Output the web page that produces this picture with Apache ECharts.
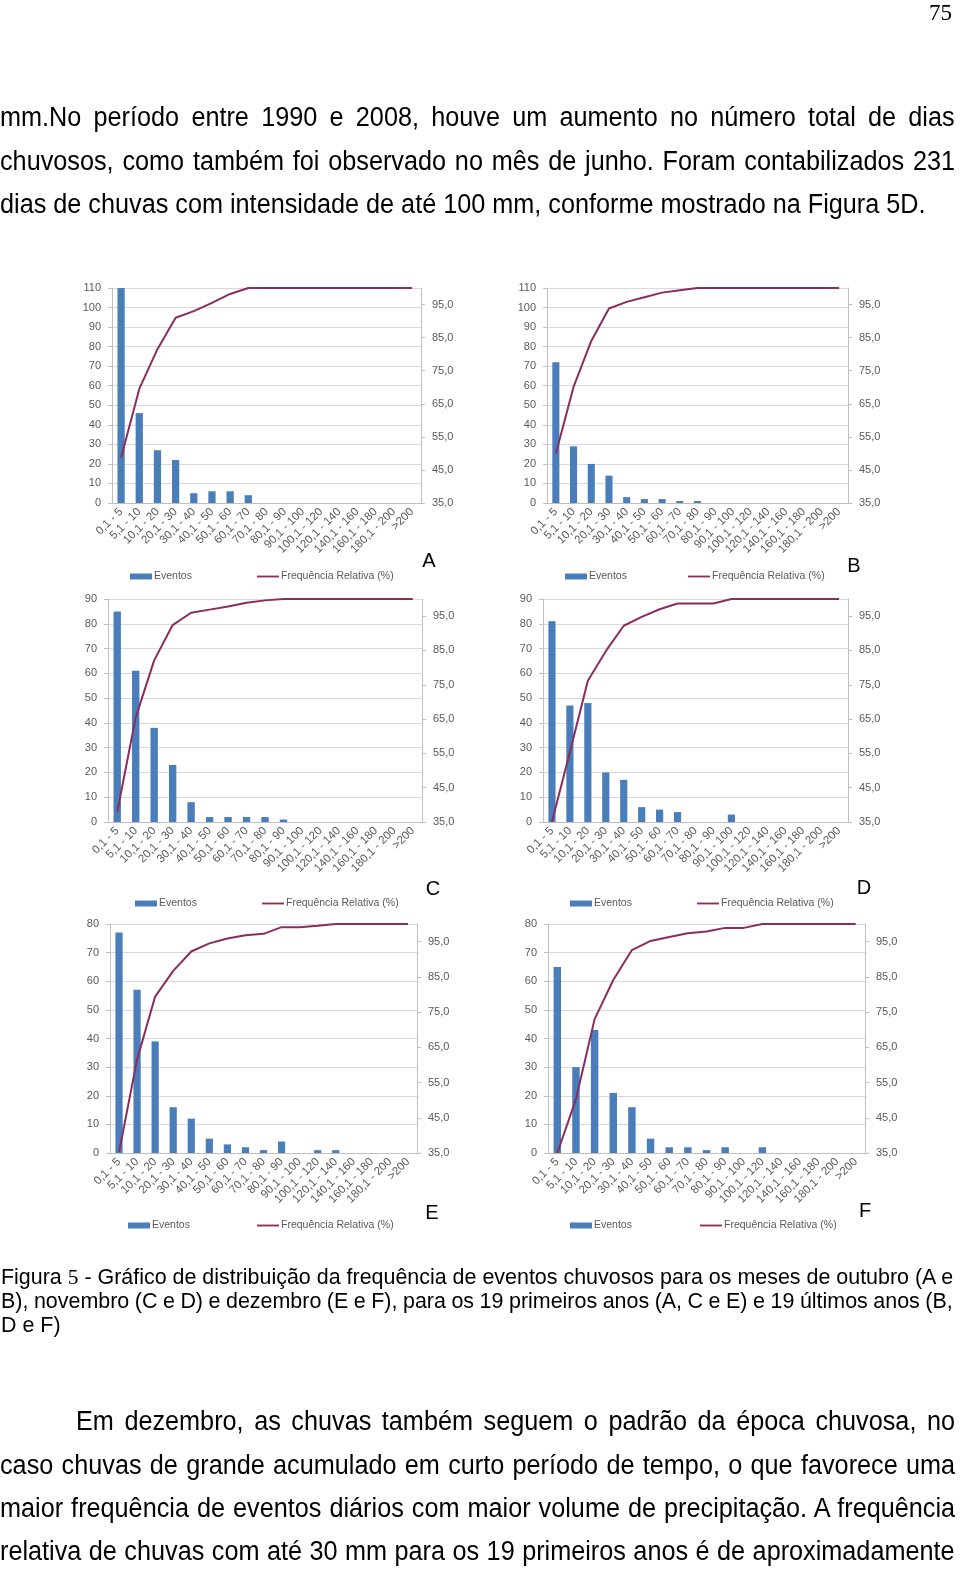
<!DOCTYPE html>
<html>
<head>
<meta charset="utf-8">
<script src="https://cdn.jsdelivr.net/npm/echarts@6/dist/echarts.min.js"></script>
<style>
  html, body { margin:0; padding:0; background:#fff; }
  body { width:960px; height:1571px; position:relative; overflow:hidden; }
  #chart { position:absolute; left:0; top:0; width:960px; height:1571px; z-index:0; }
  .ln { position:absolute; white-space:pre; transform-origin:0 0; font-family:'Liberation Sans', Arial, sans-serif; color:#000; z-index:2; }
  .serif { font-family:'Liberation Serif', 'Times New Roman', serif; }
</style>
</head>
<body>
<div id="chart"></div>
<script>
// ---------------- DATA ----------------
const categories = ['0,1 - 5','5,1 - 10','10,1 - 20','20,1 - 30','30,1 - 40','40,1 - 50','50,1 - 60','60,1 - 70','70,1 - 80','80,1 - 90','90,1 - 100','100,1 - 120','120,1 - 140','140,1 - 160','160,1 - 180','180,1 - 200','>200'];

const eventosA = [110, 46, 27, 22, 5, 6, 6, 4, 0, 0, 0, 0, 0, 0, 0, 0, 0];
const freqA    = [48.7, 69.5, 81.5, 91.0, 93.0, 95.5, 98.2, 100, 100, 100, 100, 100, 100, 100, 100, 100, 100];

const eventosB = [72, 29, 20, 14, 3, 2, 2, 1, 1, 0, 0, 0, 0, 0, 0, 0, 0];
const freqB    = [50.0, 70.1, 84.0, 93.8, 95.8, 97.2, 98.6, 99.3, 100, 100, 100, 100, 100, 100, 100, 100, 100];

const eventosC = [85, 61, 38, 23, 8, 2, 2, 2, 2, 1, 0, 0, 0, 0, 0, 0, 0];
const freqC    = [37.9, 65.5, 82.1, 92.4, 96.0, 96.9, 97.8, 98.9, 99.6, 100, 100, 100, 100, 100, 100, 100, 100];

const eventosD = [81, 47, 48, 20, 17, 6, 5, 4, 0, 0, 3, 0, 0, 0, 0, 0, 0];
const freqD    = [35.1, 55.4, 76.2, 84.8, 92.2, 94.8, 97.0, 98.7, 98.7, 98.7, 100, 100, 100, 100, 100, 100, 100];

const eventosE = [77, 57, 39, 16, 12, 5, 3, 2, 1, 4, 0, 1, 1, 0, 0, 0, 0];
const freqE    = [35.3, 61.5, 79.4, 86.7, 92.2, 94.5, 95.9, 96.8, 97.2, 99.1, 99.1, 99.5, 100, 100, 100, 100, 100];

const eventosF = [65, 30, 43, 21, 16, 5, 2, 2, 1, 2, 0, 2, 0, 0, 0, 0, 0];
const freqF    = [35.0, 50.3, 73.0, 84.1, 92.6, 95.2, 96.3, 97.4, 97.9, 98.9, 98.9, 100, 100, 100, 100, 100, 100];

const leftMaxAB = 110, leftMaxCD = 90, leftMaxEF = 80;
const rightMin = 35, rightMax = 100;
const seriesNames = ['Eventos', 'Frequência Relativa (%)'];
const panelLetters = ['A','B','C','D','E','F'];

// ---------------- LAYOUT ----------------
const panels = [
  { id:'A', ev:eventosA, fr:freqA, max:leftMaxAB, g:[112,288,309,215], lg:[130,257,578], lt:[429,561] },
  { id:'B', ev:eventosB, fr:freqB, max:leftMaxAB, g:[547,288,301,215], lg:[565,688,578], lt:[854,566] },
  { id:'C', ev:eventosC, fr:freqC, max:leftMaxCD, g:[108,599,314,223], lg:[135,262,905], lt:[433,889] },
  { id:'D', ev:eventosD, fr:freqD, max:leftMaxCD, g:[543,599,305,223], lg:[570,697,905], lt:[864,888] },
  { id:'E', ev:eventosE, fr:freqE, max:leftMaxEF, g:[110,924,307,229], lg:[128,257,1227], lt:[432,1213] },
  { id:'F', ev:eventosF, fr:freqF, max:leftMaxEF, g:[548,924,317,229], lg:[570,700,1227], lt:[865,1211] }
];

const FONT = "'Liberation Sans', Arial, sans-serif";
const BAR = '#4a7ebb', LINE = '#8b2d5c', AXIS = '#bfbfbf', GRID = '#d9d9d9', LBL = '#595959';

const grids = [], xAxes = [], yAxes = [], series = [], legends = [], graphics = [];
panels.forEach((p, i) => {
  grids.push({ left:p.g[0], top:p.g[1], width:p.g[2], height:p.g[3], containLabel:false, outerBoundsMode:'none' });
  xAxes.push({
    type:'category', gridIndex:i, data:categories,
    axisLine:{ lineStyle:{ color:AXIS } },
    axisTick:{ length:4, lineStyle:{ color:AXIS } },
    axisLabel:{ interval:0, rotate:45, fontSize:11.5, color:LBL, margin:7, fontFamily:FONT }
  });
  yAxes.push({
    type:'value', gridIndex:i, position:'left', min:0, max:p.max, interval:10,
    axisLine:{ show:true, lineStyle:{ color:AXIS } },
    axisTick:{ show:true, length:4, lineStyle:{ color:AXIS } },
    splitLine:{ show:true, lineStyle:{ color:GRID } },
    axisLabel:{ fontSize:11, color:LBL, margin:11, fontFamily:FONT }
  });
  yAxes.push({
    type:'value', gridIndex:i, position:'right', min:rightMin, max:rightMax, interval:10,
    axisLine:{ show:true, lineStyle:{ color:AXIS } },
    axisTick:{ show:true, length:4, lineStyle:{ color:AXIS } },
    splitLine:{ show:false },
    axisLabel:{ fontSize:11, color:LBL, margin:11, fontFamily:FONT, showMaxLabel:false,
      formatter: v => v.toFixed(1).replace('.', ',') }
  });
  series.push({
    type:'bar', name:seriesNames[0], xAxisIndex:i, yAxisIndex:2*i, data:p.ev,
    barWidth:'40%', itemStyle:{ color:BAR }, animation:false
  });
  series.push({
    type:'line', name:seriesNames[1], xAxisIndex:i, yAxisIndex:2*i+1, data:p.fr,
    symbol:'none', lineStyle:{ color:LINE, width:2 }, itemStyle:{ color:LINE }, animation:false
  });
  legends.push({
    left:p.lg[0], top:p.lg[2]-7, padding:0, itemWidth:22, itemHeight:6, itemGap:4, selectedMode:false,
    data:[{ name:seriesNames[0], icon:'rect' }],
    textStyle:{ fontSize:10.5, color:LBL, fontFamily:FONT, padding:[0,0,0,-3] }
  });
  legends.push({
    left:p.lg[1], top:p.lg[2]-7, padding:0, itemWidth:22, itemHeight:6, itemGap:4, selectedMode:false,
    data:[{ name:seriesNames[1], icon:'path://M0 0H24V2H0Z' }],
    textStyle:{ fontSize:10.5, color:LBL, fontFamily:FONT, padding:[0,0,0,-3] }
  });
  graphics.push({
    type:'text', x:p.lt[0], y:p.lt[1], z:10,
    style:{ text:panelLetters[i], fontSize:20, fill:'#000', fontFamily:FONT, align:'center', verticalAlign:'middle' }
  });
});

const chart = echarts.init(document.getElementById('chart'), null, { renderer:'canvas' });
chart.setOption({
  animation:false,
  grid:grids, xAxis:xAxes, yAxis:yAxes, series:series, legend:legends, graphic:graphics
});

// ---------------- TEXT ----------------
// x: left edge, w: right edge for justified lines, cal: right edge of a calibration line
const textLines = [
  { t:'mm.No período entre 1990 e 2008, houve um aumento no número total de dias', x:0, cy:118, size:27, w:955, grp:'body' },
  { t:'chuvosos, como também foi observado no mês de junho. Foram contabilizados 231', x:0, cy:162, size:27, w:955, grp:'body' },
  { t:'dias de chuvas com intensidade de até 100 mm, conforme mostrado na Figura 5D.', x:0, cy:205, size:27, cal:926, grp:'body' },
  { h:'Figura <span class="serif">5</span> - Gráfico de distribuição da frequência de eventos chuvosos para os meses de outubro (A e', x:1, cy:1277, size:22, cal:953, grp:'cap' },
  { t:'B), novembro (C e D) e dezembro (E e F), para os 19 primeiros anos (A, C e E) e 19 últimos anos (B,', x:1, cy:1301, size:22, w:953, grp:'cap' },
  { t:'D e F)', x:1, cy:1325, size:22, grp:'cap' },
  { t:'Em dezembro, as chuvas também seguem o padrão da época chuvosa, no', x:76, cy:1422, size:27, w:955, grp:'body' },
  { t:'caso chuvas de grande acumulado em curto período de tempo, o que favorece uma', x:0, cy:1466, size:27, w:955, grp:'body' },
  { t:'maior frequência de eventos diários com maior volume de precipitação. A frequência', x:0, cy:1509, size:27, w:955, grp:'body' },
  { t:'relativa de chuvas com até 30 mm para os 19 primeiros anos é de aproximadamente', x:0, cy:1552, size:27, w:955, grp:'body' }
];

const els = textLines.map(o => {
  const d = document.createElement('div');
  d.className = 'ln';
  d.style.left = o.x + 'px';
  d.style.top = (o.cy - 0.52 * o.size) + 'px';
  d.style.fontSize = o.size + 'px';
  d.style.lineHeight = o.size + 'px';
  if (o.h) d.innerHTML = o.h; else d.textContent = o.t;
  document.body.appendChild(d);
  return d;
});
const S = {};
textLines.forEach((o, i) => { if (o.cal) S[o.grp] = (o.cal - o.x) / els[i].offsetWidth; });
textLines.forEach((o, i) => {
  const d = els[i];
  const s = S[o.grp] || 1;
  if (o.w) {
    const txt = o.t || d.textContent;
    const n = (txt.match(/ /g) || []).length;
    const w = d.offsetWidth;
    d.style.wordSpacing = (((o.w - o.x) / s - w) / n) + 'px';
  }
  d.style.transform = 'scaleX(' + s + ')';
});

const pg = document.createElement('div');
pg.className = 'ln serif';
pg.textContent = '75';
pg.style.fontSize = '23px';
pg.style.lineHeight = '23px';
pg.style.top = '1px';
pg.style.left = '929px';
document.body.appendChild(pg);
</script>
</body>
</html>
